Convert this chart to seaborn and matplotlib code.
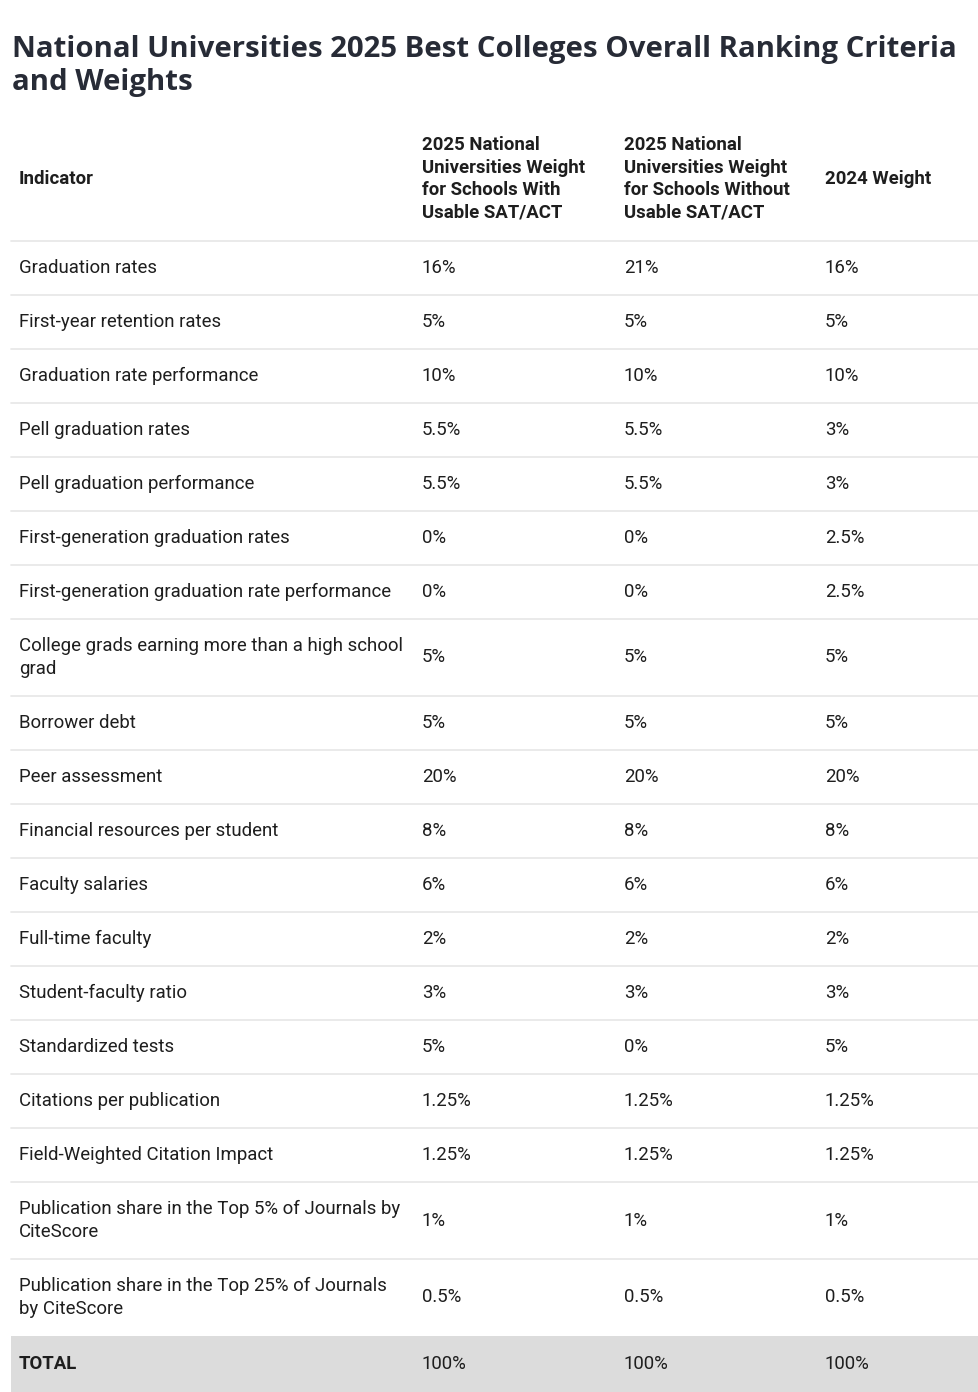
import matplotlib.pyplot as plt
import seaborn as sns

# data
indicators = [
    "Graduation rates",
    "First-year retention rates",
    "Graduation rate performance",
    "Pell graduation rates",
    "Pell graduation performance",
    "First-generation graduation rates",
    "First-generation graduation rate performance",
    "College grads earning more than a high school\ngrad",
    "Borrower debt",
    "Peer assessment",
    "Financial resources per student",
    "Faculty salaries",
    "Full-time faculty",
    "Student-faculty ratio",
    "Standardized tests",
    "Citations per publication",
    "Field-Weighted Citation Impact",
    "Publication share in the Top 5% of Journals by\nCiteScore",
    "Publication share in the Top 25% of Journals\nby CiteScore",
]
w2025_with = ["16%", "5%", "10%", "5.5%", "5.5%", "0%", "0%", "5%", "5%", "20%",
              "8%", "6%", "2%", "3%", "5%", "1.25%", "1.25%", "1%", "0.5%"]
w2025_without = ["21%", "5%", "10%", "5.5%", "5.5%", "0%", "0%", "5%", "5%", "20%",
                 "8%", "6%", "2%", "3%", "0%", "1.25%", "1.25%", "1%", "0.5%"]
w2024 = ["16%", "5%", "10%", "3%", "3%", "2.5%", "2.5%", "5%", "5%", "20%",
         "8%", "6%", "2%", "3%", "5%", "1.25%", "1.25%", "1%", "0.5%"]
totals = ["100%", "100%", "100%"]

headers = ["Indicator",
           "2025 National\nUniversities Weight\nfor Schools With\nUsable SAT/ACT",
           "2025 National\nUniversities Weight\nfor Schools Without\nUsable SAT/ACT",
           "2024 Weight"]
title = "National Universities 2025 Best Colleges Overall Ranking Criteria\nand Weights"

sns.set_theme(style="white")
plt.rcParams['font.family'] = ['Roboto', 'DejaVu Sans']

W, H = 979, 1392
fig = plt.figure(figsize=(W / 100, H / 100), dpi=100)
ax = fig.add_axes([0, 0, 1, 1])
ax.set_xlim(0, W)
ax.set_ylim(H, 0)
ax.axis('off')

txt = '#1e1e1e'
line_c = '#e6e6e6'
col_x = [19, 422, 624, 825]
fs = 13.4

ax.text(12, 66, title, fontsize=21.2, fontweight='bold', color='#272b36',
        family=['Open Sans', 'DejaVu Sans'], va='center', linespacing=1.22)

# header
for x, h in zip(col_x, headers):
    ax.text(x, 179, h, fontsize=fs, fontweight='bold', color=txt, va='center',
            linespacing=1.32)
ax.plot([11, W], [241, 241], color=line_c, lw=1.2)

y = 241
for i, lab in enumerate(indicators):
    h = 77 if "\n" in lab else 54
    yc = y + h / 2
    ax.text(col_x[0], yc, lab, fontsize=fs, color=txt, va='center', linespacing=1.3)
    for x, v in zip(col_x[1:], [w2025_with[i], w2025_without[i], w2024[i]]):
        ax.text(x, yc, v, fontsize=fs, color=txt, va='center')
    y += h
    if i < len(indicators) - 1:
        ax.plot([11, W], [y, y], color=line_c, lw=1.2)

# total row
ax.fill_between([11, W], y, H, color='#dcdcdc', lw=0)
yc = (y + H) / 2
ax.text(col_x[0], yc, "TOTAL", fontsize=fs, fontweight='bold', color=txt, va='center')
for x, v in zip(col_x[1:], totals):
    ax.text(x, yc, v, fontsize=fs, color=txt, va='center')

fig.savefig('out.png', dpi=100, facecolor='white')
